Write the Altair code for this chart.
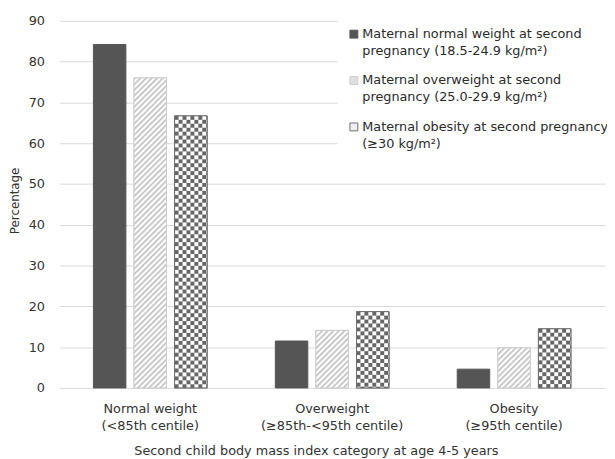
import urllib.parse
import altair as alt
import pandas as pd

# ---- data ----
categories = [
    "Normal weight\n(<85th centile)",
    "Overweight\n(≥85th-<95th centile)",
    "Obesity\n(≥95th centile)",
]
series = [
    "Maternal normal weight at second\npregnancy (18.5-24.9 kg/m²)",
    "Maternal overweight at second\npregnancy (25.0-29.9 kg/m²)",
    "Maternal obesity at second pregnancy\n(≥30 kg/m²)",
]
normal_weight = [84.2, 11.5, 4.6]
overweight = [76.0, 14.1, 9.8]
obesity = [66.7, 18.7, 14.5]
y_ticks = [0, 10, 20, 30, 40, 50, 60, 70, 80, 90]
x_title = "Second child body mass index category at age 4-5 years"
y_title = "Percentage"

rows = []
for k, (s, vals) in enumerate(zip(series, [normal_weight, overweight, obesity])):
    for c, v in zip(categories, vals):
        rows.append({"cat": c, "s": s, "k": k, "v": v})
df = pd.DataFrame(rows)

# ---- fill patterns (styles) as self-contained SVG tiles ----
hatch_svg = (
    "<svg xmlns='http://www.w3.org/2000/svg'><defs>"
    "<pattern id='p' width='4' height='4' patternUnits='userSpaceOnUse' patternTransform='rotate(45)'>"
    "<rect width='4' height='4' fill='#ffffff'/><rect width='1.6' height='4' fill='#bdbdbd'/>"
    "</pattern></defs><rect width='100%' height='100%' fill='url(#p)'/></svg>"
)
checker_svg = (
    "<svg xmlns='http://www.w3.org/2000/svg'><defs>"
    "<pattern id='c' width='8' height='8' patternUnits='userSpaceOnUse'>"
    "<rect width='8' height='8' fill='#ffffff'/><rect width='4' height='4' fill='#666666'/>"
    "<rect x='4' y='4' width='4' height='4' fill='#666666'/>"
    "</pattern></defs><rect width='100%' height='100%' fill='url(#c)'/></svg>"
)
hatch_url = "data:image/svg+xml;charset=utf-8," + urllib.parse.quote(hatch_svg, safe="")
checker_url = "data:image/svg+xml;charset=utf-8," + urllib.parse.quote(checker_svg, safe="")

legend_fill = ["#555555", "#dedede", "#eeeeee"]
legend_stroke = ["#555555", "#cdcdcd", "#707070"]

x_enc = alt.X(
    "cat:N",
    sort=categories,
    scale=alt.Scale(paddingInner=0.375, paddingOuter=0.1875),
    axis=alt.Axis(
        title=x_title,
        labelExpr="split(datum.label, '\\n')",
        labelAngle=0,
        labelPadding=15,
        labelLineHeight=17,
        labelLimit=0,
        domain=False,
        ticks=False,
        grid=False,
        titleX=260,
        titleY=63,
        titleAlign="center",
        titleBaseline="middle",
        titleFontSize=13,
        titleFontWeight="normal",
    ),
)
xo_enc = alt.XOffset("s:N", sort=series, scale=alt.Scale(paddingInner=0.2, paddingOuter=0))
y_enc = alt.Y(
    "v:Q",
    scale=alt.Scale(domain=[0, 90], nice=False),
    axis=alt.Axis(
        values=y_ticks,
        title=y_title,
        domain=False,
        ticks=False,
        tickSize=0,
        labelPadding=15,
        gridColor="#d9d9d9",
        gridWidth=1,
        titleX=-45,
        titleY=182,
        titleAngle=-90,
        titleAlign="center",
        titleBaseline="middle",
        titleFontSize=12,
        titleFontWeight="normal",
    ),
)

base = alt.Chart(df).encode(x=x_enc, xOffset=xo_enc, y=y_enc)

leg = alt.Legend(title=None, labelExpr="split(datum.label, '\\n')")

bars = base.mark_bar(strokeWidth=1).encode(
    fill=alt.Fill("s:N", scale=alt.Scale(domain=series, range=legend_fill), legend=leg),
    stroke=alt.Stroke("s:N", scale=alt.Scale(domain=series, range=legend_stroke), legend=leg),
)

patterns = (
    base.transform_filter("datum.k > 0")
    .transform_calculate(url=f"datum.k == 1 ? '{hatch_url}' : '{checker_url}'")
    .mark_image(aspect=False)
    .encode(y2=alt.datum(0), url="url:N")
)

outlines = (
    base.transform_filter("datum.k > 0")
    .mark_bar(fillOpacity=0, strokeWidth=1)
    .encode(
        stroke=alt.condition("datum.k == 1", alt.value("#cdcdcd"), alt.value("#707070"))
    )
)

chart = (
    alt.layer(bars, patterns, outlines)
    .properties(
        width=553,
        height=372,
        autosize=alt.AutoSizeParams(type="none"),
        padding={"left": 52, "top": 10, "right": 2, "bottom": 68},
    )
    .configure(font="DejaVu Sans", style={"guide-label": {"lineHeight": 17}})
    .configure_view(stroke=None)
    .configure_axis(labelFontSize=13, labelColor="#333333", titleColor="#333333")
    .configure_legend(
        orient="none",
        legendX=282,
        legendY=-3,
        padding=10,
        fillColor="white",
        labelFontSize=13,
        labelColor="#2b2b2b",
        labelLimit=0,
        labelOffset=2,
        symbolType="square",
        symbolSize=64,
        symbolStrokeWidth=1,
        rowPadding=16,
    )
)

chart.save("out.html", embed_options={"renderer": "svg", "actions": False})
